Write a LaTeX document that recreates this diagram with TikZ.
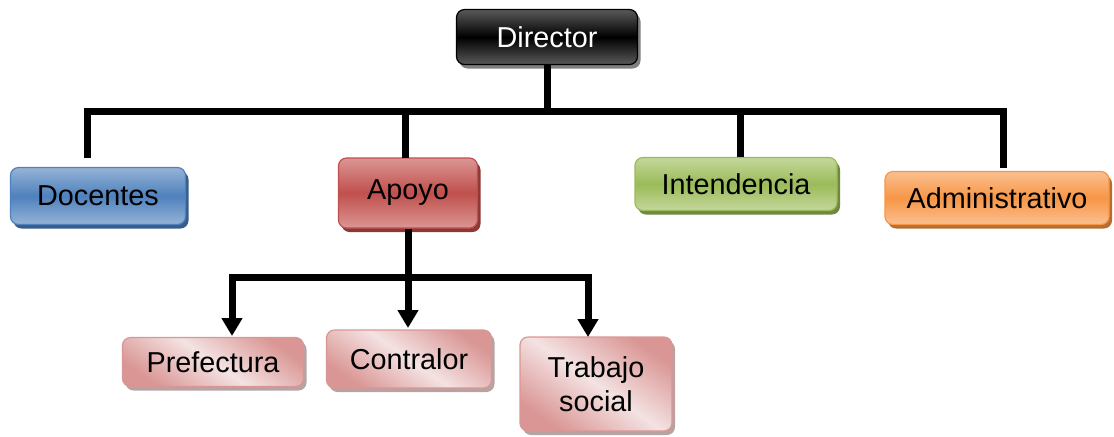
\documentclass[tikz,border=0pt]{standalone}
\usepackage{fontspec}
\setmainfont{Liberation Sans}
\usepackage{tikz}
\usetikzlibrary{shadows, arrows.meta, calc}
\definecolor{blueLight}{HTML}{95B3D7}
\definecolor{blueMid}{HTML}{4F81BD}
\definecolor{blueDark}{HTML}{385D8A}
\definecolor{redLight}{HTML}{DA9694}
\definecolor{redMid}{HTML}{C0504D}
\definecolor{redDark}{HTML}{8C3836}
\definecolor{greenLight}{HTML}{C4D79B}
\definecolor{greenMid}{HTML}{9BBB59}
\definecolor{greenDark}{HTML}{71893F}
\definecolor{orangeLight}{HTML}{FAC090}
\definecolor{orangeMid}{HTML}{F79646}
\definecolor{orangeDark}{HTML}{B66D31}
\definecolor{pinkLight}{HTML}{F4E2E2}
\definecolor{pinkDark}{HTML}{D99694}
\definecolor{pinkShadow}{HTML}{B8A3A3}
\tikzstyle{box} = [draw,rounded corners=4pt,inner sep=0pt,align=center,line width=0.6pt,font=\fontsize{14.4}{17}\selectfont]
\tikzstyle{line} = [line width=3.5pt,line join=miter]
\tikzstyle{arrow} = [line,-{Triangle[length=9pt,width=10pt]}]

\begin{document}
\begin{tikzpicture}[x=0.5pt,y=-0.5pt]
    \useasboundingbox (0,0) rectangle (1114,436);
   	\node[box,minimum width=90.5pt,minimum height=27.5pt,draw=black,text=white,top color=black!65,bottom color=black!65,middle color=black,drop shadow={shadow xshift=1.5pt,shadow yshift=-2pt,fill=black!50,opacity=1}](s_dir) at (547,37) {Director};
   	\node[box,minimum width=87.5pt,minimum height=28.5pt,draw=blueMid,top color=blueLight,bottom color=blueLight,middle color=blueMid,drop shadow={shadow xshift=1.5pt,shadow yshift=-2pt,fill=blueDark,opacity=1}](s_doc) at (98,196) {Docentes};
   	\node[box,minimum width=69.5pt,minimum height=35pt,draw=redMid,top color=redLight,bottom color=redLight,middle color=redMid,drop shadow={shadow xshift=1.5pt,shadow yshift=-2pt,fill=redDark,opacity=1}](s_apo) at (408,193) {Apoyo};
   	\node[box,minimum width=101pt,minimum height=26.5pt,draw=greenMid,top color=greenLight,bottom color=greenLight,middle color=greenMid,drop shadow={shadow xshift=1.5pt,shadow yshift=-2pt,fill=greenDark,opacity=1}](s_int) at (736,184) {Intendencia};
   	\node[box,minimum width=112pt,minimum height=26.5pt,draw=orangeMid,top color=orangeLight,bottom color=orangeLight,middle color=orangeMid,drop shadow={shadow xshift=1.5pt,shadow yshift=-2pt,fill=orangeDark,opacity=1}](s_adm) at (997,198) {Administrativo};
   	\tikzstyle{sub} = [box,draw=pinkDark,top color=pinkDark,bottom color=pinkDark,middle color=pinkLight,shading angle=-35,drop shadow={shadow xshift=1.5pt,shadow yshift=-2pt,fill=pinkShadow,opacity=1}]
   	\node[sub,minimum width=90.5pt,minimum height=24.5pt](s_pre) at (213,362) {Prefectura};
   	\node[sub,minimum width=82.5pt,minimum height=29pt](s_con) at (409,359) {Contralor};
   	\node[sub,minimum width=76pt,minimum height=47pt](s_tra) at (596,384) {Trabajo\\social};
    % bus lines
    \coordinate (b_top) at (547,111);
    \coordinate (b_doc) at (87,158);
    \coordinate (b_apo) at (405,158);
    \coordinate (b_int) at (740,157);
    \coordinate (b_adm) at (1003,168);
    \draw[line] (s_dir) -- (b_top);
    \draw[line] (b_doc) |- (b_top) -| (b_adm);
    \draw[line] (b_apo) -- (b_apo |- b_top);
    \draw[line] (b_int) -- (b_int |- b_top);
    \coordinate (c_bus) at (408,277);
    \coordinate (c_pre) at (232,336);
    \coordinate (c_con) at (408,328);
    \coordinate (c_tra) at (588,337);
    \draw[line] (s_apo) -- (c_bus);
    \draw[arrow] (c_bus) -| (c_pre);
    \draw[arrow] (c_bus) -- (c_con);
    \draw[arrow] (c_bus) -| (c_tra);
\end{tikzpicture}
\end{document}
